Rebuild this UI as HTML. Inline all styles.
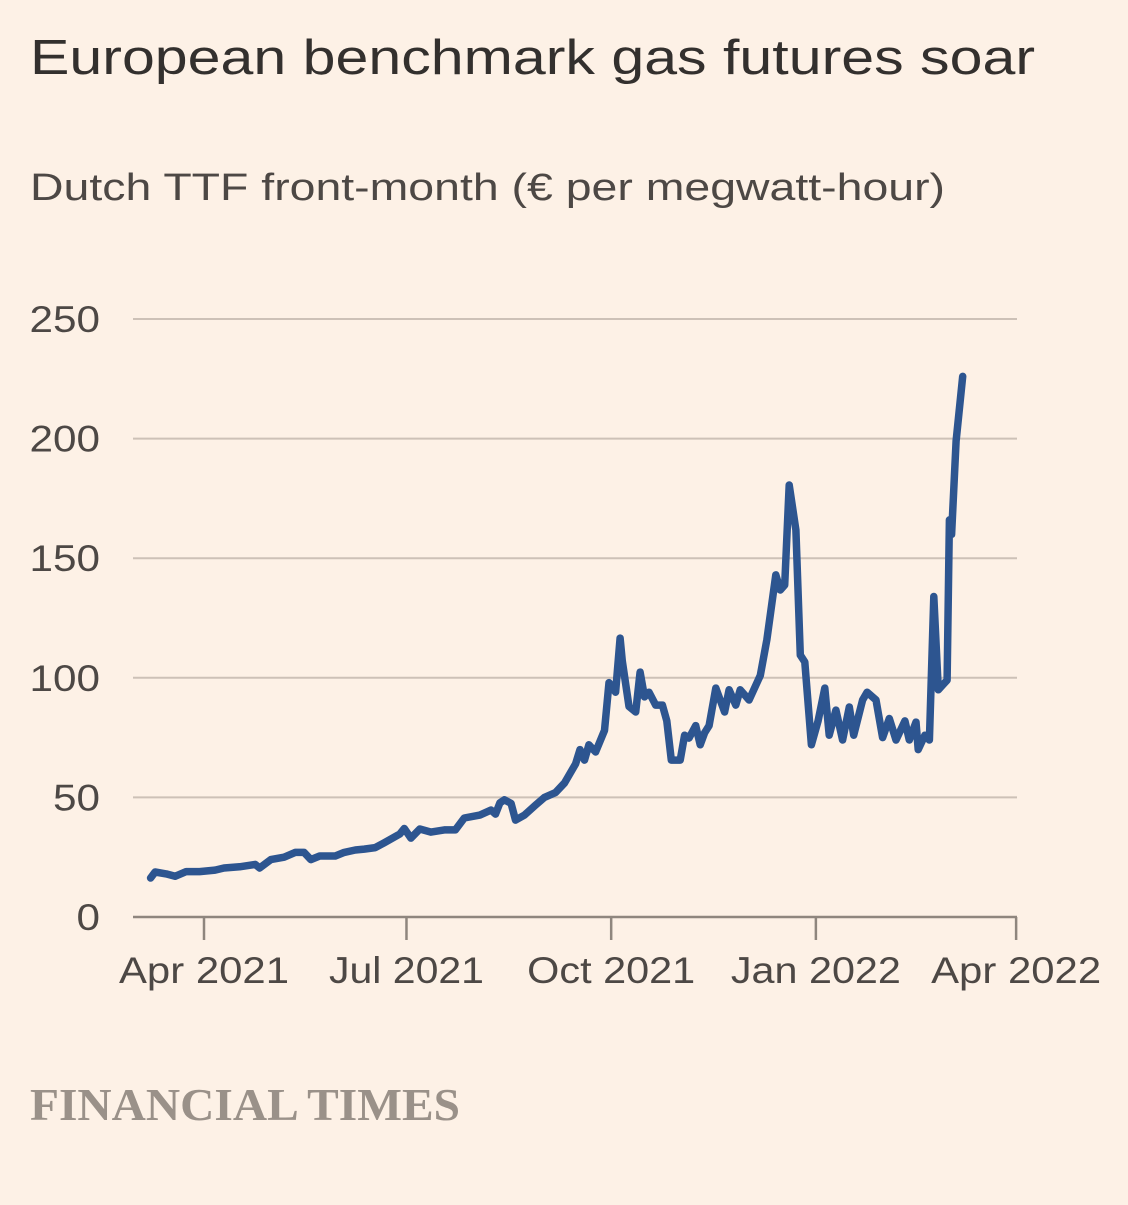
<!DOCTYPE html>
<html><head><meta charset="utf-8">
<style>
html,body{margin:0;padding:0;background:#fdf1e6;}
body{width:1128px;height:1200px;overflow:hidden;font-family:"Liberation Sans",sans-serif;}
</style></head>
<body>
<svg width="1128" height="1200" xmlns="http://www.w3.org/2000/svg">
<rect width="1128" height="1200" fill="#fdf1e6"/>
<text x="30" y="74" font-size="49" fill="#33302e" textLength="1005" lengthAdjust="spacingAndGlyphs">European benchmark gas futures soar</text>
<text x="30" y="200" font-size="38" fill="#4d4845" textLength="915" lengthAdjust="spacingAndGlyphs">Dutch TTF front-month (€ per megwatt-hour)</text>
<g id="grid"></g>
<g id="yl"></g>
<g id="xa"></g>
<path id="line" fill="none" stroke="#2d5590" stroke-width="7.5" stroke-linejoin="round" stroke-linecap="round"/>
<text x="30" y="1120" font-family="Liberation Serif,serif" font-weight="bold" font-size="46" fill="#9a9189" textLength="430" lengthAdjust="spacingAndGlyphs">FINANCIAL TIMES</text>
</svg>
<script>
const yTicks=[0,50,100,150,200,250];
const xTickLabels=["Apr 2021","Jul 2021","Oct 2021","Jan 2022","Apr 2022"];
const xTickDays=[0,91,183,275,365];
const days=[-24,-22,-17,-13,-8,-2,5,9,16,23,25,30,36,41,45,48,52,59,63,68,72,77,81,88,90,93,97,102,108,113,117,124,129,131,133,135,138,140,144,149,153,158,162,167,169,171,173,176,180,182,185,187,188,191,194,196,198,200,203,206,208,210,214,216,218,221,223,225,227,230,232,234,236,239,241,245,250,253,257,259,261,263,266,268,270,273,276,279,281,284,287,290,292,296,298,302,305,308,311,315,317,320,321,324,326,328,330,332,334,335,336,338,341];
const values=[16.3,18.8,18,17,19,19,19.6,20.5,21,22,20.5,24,25,27,27,24,25.5,25.5,27,28,28.4,29,31,34.7,37,33,36.8,35.5,36.4,36.4,41.4,42.6,44.7,43,47.7,49,47.5,40.5,42.6,46.8,50,52,56,64,70,65.6,72,69,78,98,94,116.6,107,88,85.7,102.4,92,94,88.6,88.6,82,65.6,65.6,76,74.8,80,72,77,80,95.7,90.7,85.7,95,88.6,95,90.7,101,116,143,136.7,138.8,180.6,161.8,109.5,106.6,72,82,95.7,76,86.5,74,87.8,76,90.7,94,90.7,75,83,74,82,74,81.5,70,76,74,134,95,97,99,166,160,199,226];
const NS="http://www.w3.org/2000/svg";
const y0=917,ppu=2.392,x0=204,ppd=2.225;
const ys=v=>y0-v*ppu, xs=d=>x0+d*ppd;
const grid=document.getElementById('grid'),yl=document.getElementById('yl'),xa=document.getElementById('xa');
yTicks.forEach(t=>{
  if(t>0){const l=document.createElementNS(NS,'line');
  l.setAttribute('x1',133);l.setAttribute('x2',1017);l.setAttribute('y1',ys(t));l.setAttribute('y2',ys(t));
  l.setAttribute('stroke','#cdc1b7');l.setAttribute('stroke-width','2');
  
  
  grid.appendChild(l);}
  const tx=document.createElementNS(NS,'text');
  tx.setAttribute('x',100);tx.setAttribute('y',ys(t)+13);tx.setAttribute('text-anchor','end');
  tx.setAttribute('font-size','37');tx.setAttribute('fill','#4d4845');tx.textContent=t;
  const s=String(t).length;
  tx.setAttribute('textLength',s*23.5);tx.setAttribute('lengthAdjust','spacingAndGlyphs');
  
  
  yl.appendChild(tx);
});
const ax=document.createElementNS(NS,'line');
ax.setAttribute('x1',133);ax.setAttribute('x2',1017);ax.setAttribute('y1',y0);ax.setAttribute('y2',y0);
ax.setAttribute('stroke','#8f867e');ax.setAttribute('stroke-width','2.5');


xa.appendChild(ax);
xTickDays.forEach((d,i)=>{
  const t=document.createElementNS(NS,'line');
  t.setAttribute('x1',xs(d));t.setAttribute('x2',xs(d));t.setAttribute('y1',y0);t.setAttribute('y2',y0+23);
  t.setAttribute('stroke','#8f867e');t.setAttribute('stroke-width','2.5');
  
  
  xa.appendChild(t);
  const tx=document.createElementNS(NS,'text');
  tx.setAttribute('x',xs(d));tx.setAttribute('y',983);tx.setAttribute('text-anchor','middle');
  tx.setAttribute('font-size','37');tx.setAttribute('fill','#4d4845');tx.textContent=xTickLabels[i];
  tx.setAttribute('textLength',xTickLabels[i].startsWith('Jul')?155:(xTickLabels[i].startsWith('Oct')?168:170));
  tx.setAttribute('lengthAdjust','spacingAndGlyphs');
  
  
  xa.appendChild(tx);
});
document.getElementById('line').setAttribute('d',days.map((d,i)=>(i?'L':'M')+xs(d).toFixed(1)+','+ys(values[i]).toFixed(1)).join(''));
</script>
</body></html>
